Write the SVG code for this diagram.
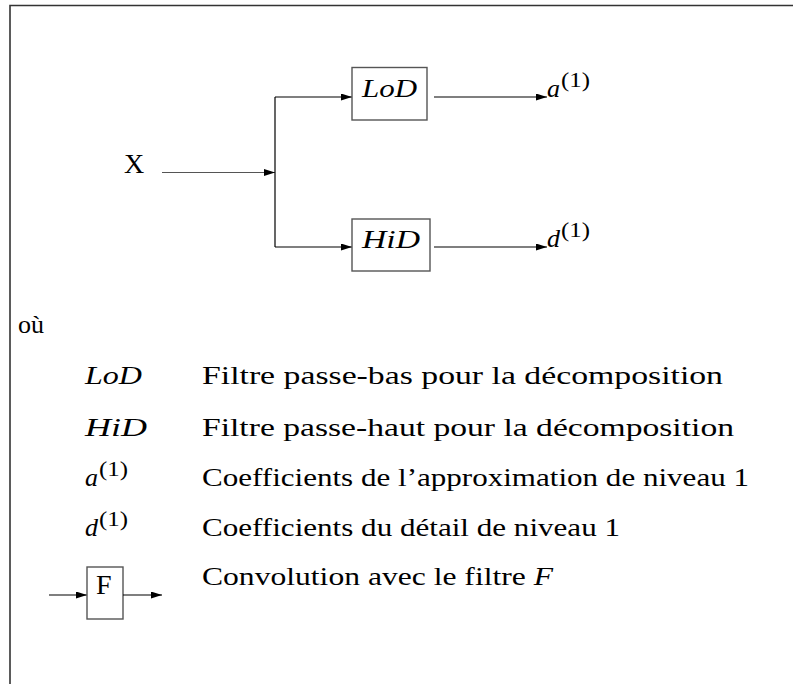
<svg xmlns="http://www.w3.org/2000/svg" width="793" height="684" viewBox="0 0 793 684">
<style>
text{font-family:"Liberation Serif","Times New Roman",serif;font-size:26px;fill:#000}
.it{font-style:italic}
.big{font-size:28px}
.sup{font-size:20px}
.box{fill:#fff;stroke:#555;stroke-width:1.4}
.wire{fill:none;stroke:#000;stroke-width:1.2}
.frame{fill:none;stroke:#333;stroke-width:1.6}
</style>
<defs>
<marker id="ah" viewBox="0 0 11 7" refX="11" refY="3.5" markerWidth="11" markerHeight="7" markerUnits="userSpaceOnUse" orient="auto">
<path d="M0,0 L11,3.5 L0,7 z" fill="#000"/>
</marker>
</defs>
<path class="frame" d="M10,684 V5.5 H793"/>
<g id="connectors">
<path class="wire" style="stroke:#555" d="M162,172.5 H275" marker-end="url(#ah)"/>
<path class="wire" d="M275,97 V247"/>
<path class="wire" d="M275,97 H352" marker-end="url(#ah)"/>
<path class="wire" d="M275,247 H352" marker-end="url(#ah)"/>
<path class="wire" d="M434,97 H547" marker-end="url(#ah)"/>
<path class="wire" d="M434,247 H547" marker-end="url(#ah)"/>
</g>
<g id="input-X"><text class="big" x="124" y="173">X</text></g>
<g id="LoD"><rect class="box" x="352" y="67.5" width="75" height="52.5"/><text class="it" x="362" y="97" textLength="55" lengthAdjust="spacingAndGlyphs">LoD</text></g>
<g id="HiD"><rect class="box" x="352" y="219" width="78" height="52"/><text class="it" x="362" y="248" textLength="58" lengthAdjust="spacingAndGlyphs">HiD</text></g>
<g id="out-a"><text class="it" x="547" y="97">a</text><text class="sup" x="561" y="87" textLength="29" lengthAdjust="spacingAndGlyphs">(1)</text></g>
<g id="out-d"><text class="it" x="547" y="247">d</text><text class="sup" x="561" y="237" textLength="29" lengthAdjust="spacingAndGlyphs">(1)</text></g>
<g id="legend">
<text x="18" y="333">où</text>
<text class="it" x="85" y="384" textLength="57" lengthAdjust="spacingAndGlyphs">LoD</text>
<text x="202" y="384" textLength="521" lengthAdjust="spacingAndGlyphs">Filtre passe-bas pour la décomposition</text>
<text class="it" x="85" y="436" textLength="62" lengthAdjust="spacingAndGlyphs">HiD</text>
<text x="202" y="436" textLength="532" lengthAdjust="spacingAndGlyphs">Filtre passe-haut pour la décomposition</text>
<text class="it" x="85" y="486">a</text><text class="sup" x="99" y="476" textLength="29" lengthAdjust="spacingAndGlyphs">(1)</text>
<text x="202" y="486" textLength="547" lengthAdjust="spacingAndGlyphs">Coefficients de l’approximation de niveau 1</text>
<text class="it" x="85" y="536">d</text><text class="sup" x="99" y="526" textLength="29" lengthAdjust="spacingAndGlyphs">(1)</text>
<text x="202" y="536" textLength="418" lengthAdjust="spacingAndGlyphs">Coefficients du détail de niveau 1</text>
<text x="202" y="585" textLength="351" lengthAdjust="spacingAndGlyphs">Convolution avec le filtre <tspan class="it">F</tspan></text>
</g>
<g id="legend-F">
<path class="wire" d="M49,595 H87" marker-end="url(#ah)"/>
<rect class="box" x="87" y="567" width="36" height="52"/>
<text class="big" x="96" y="594">F</text>
<path class="wire" d="M123,595 H162" marker-end="url(#ah)"/>
</g>
</svg>
